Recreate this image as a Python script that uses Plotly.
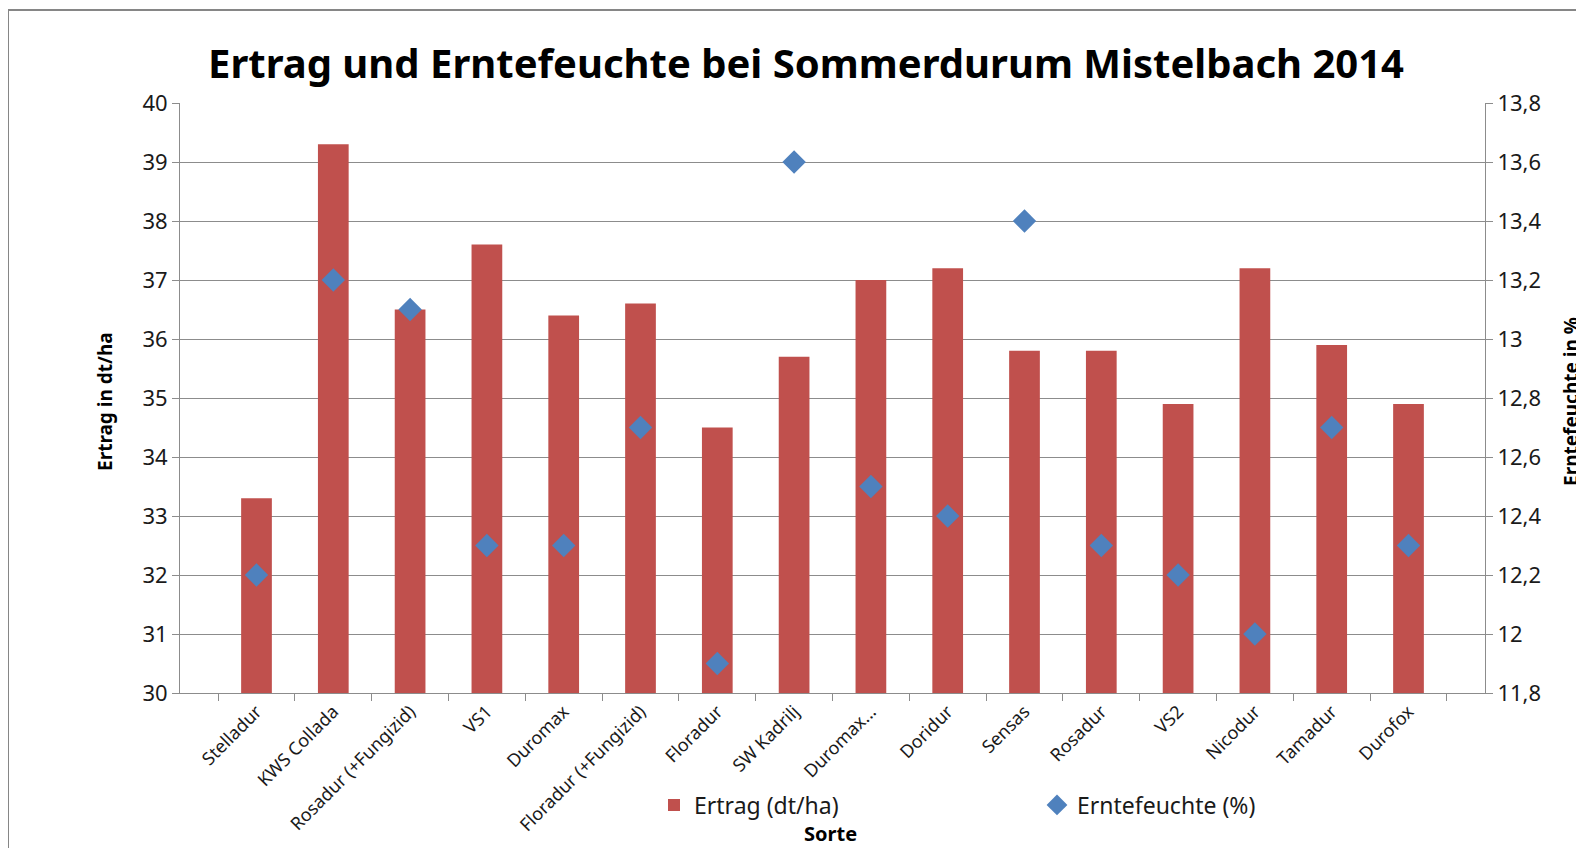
import plotly.graph_objects as go

sorten = ["Stelladur", "KWS Collada", "Rosadur (+Fungizid)", "VS1", "Duromax",
          "Floradur (+Fungizid)", "Floradur", "SW Kadrilj", "Duromax...", "Doridur",
          "Sensas", "Rosadur", "VS2", "Nicodur", "Tamadur", "Durofox"]
ertrag = [33.3, 39.3, 36.5, 37.6, 36.4, 36.6, 34.5, 35.7, 37.0, 37.2,
          35.8, 35.8, 34.9, 37.2, 35.9, 34.9]
feuchte = [12.2, 13.2, 13.1, 12.3, 12.3, 12.7, 11.9, 13.6, 12.5, 12.4,
           13.4, 12.3, 12.2, 12.0, 12.7, 12.3]
y1_ticks = list(range(30, 41))
y2_ticks = [11.8, 12.0, 12.2, 12.4, 12.6, 12.8, 13.0, 13.2, 13.4, 13.6, 13.8]
y2_labels = ["11,8", "12", "12,2", "12,4", "12,6", "12,8", "13", "13,2", "13,4", "13,6", "13,8"]

FONT = "Noto Sans"
GRID = "#8c8c8c"
TXT = "#1a1a1a"

# page offset of the figure (body margin)
OFF = 8
W, H = 1584, 848
# desired page coordinates of plot area
PL, PR, PT, PB = 180, 1485, 103, 693
L = PL - OFF
T = PT - OFF
R = W - (PR - OFF)
B = H - (PB - OFF)
pw, ph = PR - PL, PB - PT


def px(x):
    return (x - PL) / pw


def py(y):
    return (PB - y) / ph


fig = go.Figure()
fig.add_trace(go.Bar(x=sorten, y=ertrag, name="Ertrag (dt/ha)",
                     marker=dict(color="#C0504D", line=dict(width=0)), width=0.4))
fig.add_trace(go.Scatter(x=sorten, y=feuchte, name="Erntefeuchte (%)", yaxis="y2",
                         mode="markers",
                         marker=dict(symbol="diamond", color="#4F81BD", size=18)))

fig.update_layout(
    width=W, height=H,
    margin=dict(l=L, r=R, t=T, b=B),
    paper_bgcolor="white", plot_bgcolor="white",
    font=dict(family=FONT, color=TXT),
    showlegend=True,
    xaxis=dict(type="category", showline=True, linecolor=GRID, linewidth=1,
               ticks="outside", ticklen=7, tickcolor=GRID, tickson="boundaries",
               tickangle=-45, tickfont=dict(size=18, family=FONT, color=TXT),
               showgrid=False, automargin=False),
    yaxis=dict(range=[30, 40], tickvals=y1_ticks, showline=True, linecolor=GRID,
               ticks="outside", ticklen=7, tickcolor=GRID, showgrid=True,
               gridcolor=GRID, gridwidth=1, tickfont=dict(size=22, family=FONT, color=TXT),
               zeroline=False, automargin=False),
    yaxis2=dict(range=[11.8, 13.8], tickvals=y2_ticks, ticktext=y2_labels, overlaying="y",
                side="right", showline=True, linecolor=GRID, ticks="outside", ticklen=7,
                tickcolor=GRID, showgrid=False, tickfont=dict(size=22, family=FONT, color=TXT),
                zeroline=False, automargin=False),
    legend=dict(orientation="h", x=px(654), xanchor="left", y=py(805), yanchor="middle",
                entrywidth=338, entrywidthmode="pixels",
                font=dict(size=23, family=FONT, color=TXT), bgcolor="rgba(0,0,0,0)"),
    title=dict(text="<b>Ertrag und Erntefeuchte bei Sommerdurum Mistelbach 2014</b>",
               x=(806 - OFF) / W, xanchor="center", y=1 - (64 - OFF) / H, yanchor="middle",
               font=dict(size=40, family=FONT, color="#000000")),
)

fig.add_annotation(text="<b>Ertrag in dt/ha</b>", x=px(105), y=py(402), xref="paper", yref="paper",
                   textangle=-90, showarrow=False, font=dict(size=19, family=FONT, color="#000000"),
                   xanchor="center", yanchor="middle")
fig.add_annotation(text="<b>Erntefeuchte in %</b>", x=px(1571), y=py(402), xref="paper", yref="paper",
                   textangle=-90, showarrow=False, font=dict(size=19, family=FONT, color="#000000"),
                   xanchor="center", yanchor="middle")
fig.add_annotation(text="<b>Sorte</b>", x=px(830), y=py(834), xref="paper", yref="paper",
                   showarrow=False, font=dict(size=20, family=FONT, color="#000000"),
                   xanchor="center", yanchor="middle")

fig.add_shape(type="rect", xref="paper", yref="paper",
              x0=px(8), x1=px(1620), y0=py(880), y1=py(10),
              line=dict(color="#868686", width=2), fillcolor="rgba(0,0,0,0)", layer="below")

fig.write_html("out.html")
